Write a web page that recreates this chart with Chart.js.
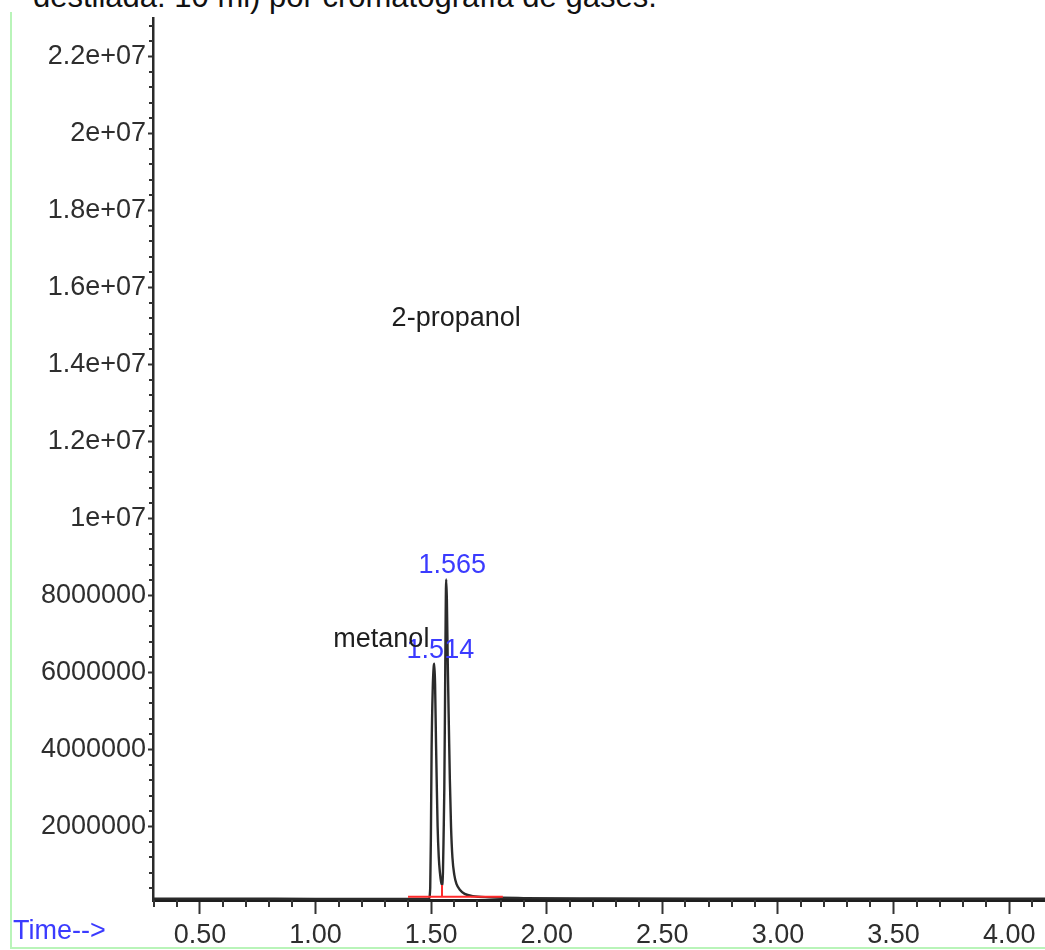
<!DOCTYPE html>
<html>
<head>
<meta charset="utf-8">
<script src="https://cdn.jsdelivr.net/npm/chart.js@4.4.1/dist/chart.umd.min.js"></script>
<style>
  html, body { margin: 0; padding: 0; background: #fff; }
  #wrap { position: relative; width: 1045px; height: 950px; overflow: hidden; }
  #frame { position: absolute; left: 10px; top: 12px; width: 1040px; height: 935px;
           border-left: 2px solid #b9f4b9; border-bottom: 2px solid #b9f4b9; }
  #caption { position: absolute; left: 33px; top: -19px; font: 31px 'Liberation Sans', Arial, sans-serif;
             line-height: 31px; color: #111; white-space: nowrap; }
  canvas { position: absolute; left: 0; top: 0; }
</style>
</head>
<body>
<div id="wrap">
  <div id="frame"></div>
  <div id="caption">destilada: 10 ml) por cromatografía de gases.</div>
  <canvas id="c" width="1045" height="950"></canvas>
</div>
<script>
// Total ion chromatogram: retention time (min) and abundance
const timeMin = [
  0.297, 0.50, 1.00, 1.30, 1.45, 1.490, 1.496, 1.499, 1.502, 1.507, 1.511,
  1.514, 1.517, 1.521, 1.524, 1.528, 1.533, 1.538, 1.543, 1.547, 1.551,
  1.554, 1.557, 1.560, 1.563, 1.565, 1.568, 1.572, 1.577, 1.581, 1.586,
  1.592, 1.600, 1.610, 1.625, 1.645, 1.68, 1.75, 1.90, 2.20, 3.00, 4.155
];
const abundance = [
  125000, 125000, 120000, 118000, 118000, 122000, 400000, 1800000, 4000000, 5600000, 6150000,
  6230000, 5700000, 4200000, 3200000, 2000000, 1200000, 800000, 560000, 480000, 800000,
  1800000, 3000000, 5200000, 7600000, 8420000, 7900000, 6200000, 4500000, 3200000, 2000000,
  1200000, 750000, 500000, 350000, 250000, 190000, 160000, 140000, 130000, 125000, 122000
];

// Integrated peaks
const peakTimes = [1.514, 1.565];
const peakHeights = [6230000, 8420000];
const peakNames = ['metanol', '2-propanol'];

// Integration baseline and drop line between the two peaks
const baseStart = 1.40;
const baseEnd = 1.81;
const baseLevel = 175000;
const dropTime = 1.547;
const dropTop = 480000;

// Axes
const xTickValues = [0.5, 1.0, 1.5, 2.0, 2.5, 3.0, 3.5, 4.0];
const xTickLabels = ['0.50', '1.00', '1.50', '2.00', '2.50', '3.00', '3.50', '4.00'];
const yTickValues = [2e6, 4e6, 6e6, 8e6, 1e7, 1.2e7, 1.4e7, 1.6e7, 1.8e7, 2e7, 2.2e7];
const yTickLabels = ['2000000', '4000000', '6000000', '8000000', '1e+07', '1.2e+07',
                     '1.4e+07', '1.6e+07', '1.8e+07', '2e+07', '2.2e+07'];

const FONT = "'Liberation Sans', Arial, sans-serif";
const INK = '#2e2e2e';
const BLUE = '#3b3bff';

const signal = timeMin.map((t, i) => ({ x: t, y: abundance[i] }));

// Small unlabeled ticks between the labeled ones
const minorTicks = {
  id: 'minorTicks',
  afterDraw(chart) {
    const { ctx, chartArea: a, scales: { x, y } } = chart;
    ctx.save();
    ctx.strokeStyle = '#333';
    ctx.lineWidth = 2;
    ctx.beginPath();
    for (let i = 3; i <= 42; i++) {
      if (i % 5 === 0) continue;
      const px = Math.round(x.getPixelForValue(i / 10));
      if (px < a.left || px > a.right) continue;
      ctx.moveTo(px, a.bottom);
      ctx.lineTo(px, a.bottom + 7);
    }
    for (let k = 1; k * 4e5 <= y.max; k++) {
      if (k % 5 === 0) continue;
      const py = Math.round(y.getPixelForValue(k * 4e5));
      ctx.moveTo(a.left - 4, py);
      ctx.lineTo(a.left, py);
    }
    ctx.stroke();
    ctx.restore();
  }
};

// Retention-time and compound labels, plus the time axis caption
const peakLabels = {
  id: 'peakLabels',
  afterDraw(chart) {
    const { ctx, chartArea: a, scales: { x, y } } = chart;
    ctx.save();
    ctx.font = '27px ' + FONT;
    ctx.textBaseline = 'alphabetic';
    peakTimes.forEach((t, i) => {
      const px = x.getPixelForValue(t);
      const py = y.getPixelForValue(peakHeights[i]);
      ctx.fillStyle = BLUE;
      ctx.textAlign = 'center';
      ctx.fillText(t.toFixed(3), px + 6, py - 6);
    });
    // compound names
    ctx.fillStyle = '#1e1e1e';
    const m = { x: x.getPixelForValue(peakTimes[0]), y: y.getPixelForValue(peakHeights[0]) };
    ctx.textAlign = 'right';
    ctx.fillText(peakNames[0], m.x - 5, m.y - 17);
    const p = { x: x.getPixelForValue(peakTimes[1]), y: y.getPixelForValue(peakHeights[1]) };
    ctx.textAlign = 'center';
    ctx.fillText(peakNames[1], p.x + 10, p.y - 253);
    // axis caption
    ctx.fillStyle = BLUE;
    ctx.textAlign = 'left';
    ctx.textBaseline = 'middle';
    ctx.fillText('Time-->', 13, a.bottom + 32);
    ctx.restore();
  }
};

new Chart(document.getElementById('c'), {
  type: 'line',
  data: {
    datasets: [
      {
        data: [{ x: baseStart, y: baseLevel }, { x: baseEnd, y: baseLevel }],
        borderColor: '#ff2a2a', borderWidth: 2, pointRadius: 0, order: 0
      },
      {
        data: [{ x: dropTime, y: baseLevel }, { x: dropTime, y: dropTop }],
        borderColor: '#ff2a2a', borderWidth: 2, pointRadius: 0, order: 0
      },
      {
        data: signal,
        borderColor: '#2b2b2b', borderWidth: 2.4, pointRadius: 0,
        cubicInterpolationMode: 'monotone', order: 1
      }
    ]
  },
  options: {
    responsive: false,
    animation: false,
    events: [],
    layout: { padding: { top: 12, left: 0, right: 0, bottom: 0 } },
    plugins: { legend: { display: false }, tooltip: { enabled: false } },
    scales: {
      x: {
        type: 'linear',
        min: 0.297,
        max: 4.155,
        afterBuildTicks: s => { s.ticks = xTickValues.map(v => ({ value: v })); },
        afterFit: s => { s.height = 50; },
        ticks: {
          autoSkip: false, maxRotation: 0, padding: 5,
          font: { family: FONT, size: 27 }, color: INK,
          callback: (v, i) => xTickLabels[i]
        },
        grid: { drawOnChartArea: false, drawTicks: true, tickLength: 14, tickWidth: 2, tickColor: '#333' },
        border: { display: true, color: '#1e1e1e', width: 3 }
      },
      y: {
        type: 'linear',
        min: 90000,
        max: 2.3e7,
        afterBuildTicks: s => { s.ticks = yTickValues.map(v => ({ value: v })); },
        afterFit: s => { s.width = 153; },
        ticks: {
          autoSkip: false, padding: 2,
          font: { family: FONT, size: 27 }, color: INK,
          callback: (v, i) => yTickLabels[i]
        },
        grid: { drawOnChartArea: false, drawTicks: true, tickLength: 5, tickWidth: 2, tickColor: '#333' },
        border: { display: true, color: '#2a2a2a', width: 2.5 }
      }
    }
  },
  plugins: [minorTicks, peakLabels]
});
</script>
</body>
</html>
